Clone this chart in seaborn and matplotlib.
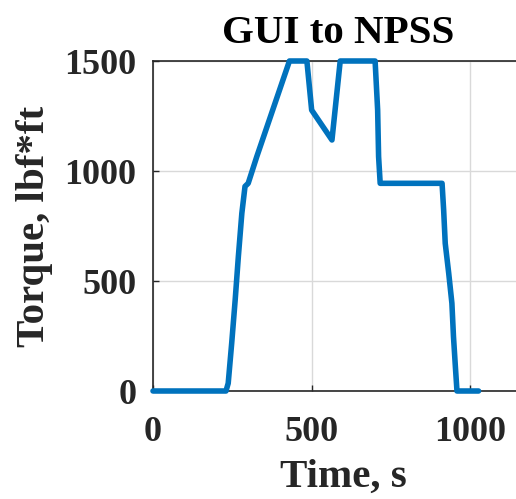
import matplotlib
matplotlib.use("Agg")
import matplotlib.pyplot as plt
import seaborn as sns
import pandas as pd

time_s = [0, 230, 237, 248, 259, 269, 280, 290, 300, 327, 430, 485, 500, 564, 590,
          700, 708, 711, 716, 911, 916, 921, 932, 942, 947, 953, 958, 1026]
torque = [0, 0, 35, 217, 414, 611, 808, 930, 944, 1065, 1500, 1500, 1277, 1141, 1500,
          1500, 1277, 1065, 944, 944, 823, 671, 535, 399, 247, 110, 0, 0]

df = pd.DataFrame({"Time": time_s, "Torque": torque})

sns.set_theme(style="ticks")
plt.rcParams['font.family'] = ['Liberation Serif', 'DejaVu Serif']
plt.rcParams['font.weight'] = 'bold'

W, H = 516, 499
fig = plt.figure(figsize=(W/100, H/100), dpi=100)
x0 = 153
ppu = 0.3173
xmax = 1200
ax = fig.add_axes([x0/W, (H-391)/H, (xmax*ppu)/W, (391-61)/H])

sns.lineplot(data=df, x="Time", y="Torque", ax=ax, color="#0072BD",
             linewidth=4.0, sort=False, estimator=None)
for ln in ax.get_lines():
    ln.set_clip_on(False)
    ln.set_zorder(5)

ax.set_xlim(0, xmax)
ax.set_ylim(0, 1500)
ax.set_xticks([0, 500, 1000])
ax.set_yticks([0, 500, 1000, 1500])
ax.grid(True, color="#d9d9d9", linewidth=1.0)
ax.set_axisbelow(True)
for s in ax.spines.values():
    s.set_color("#262626")
    s.set_linewidth(1.2)
ax.tick_params(direction="in", length=4, width=1, colors="#262626", labelsize=26,
               labelcolor="#262626")
ax.tick_params(axis="y", pad=12)
ax.tick_params(axis="x", pad=18)
for lab in ax.get_xticklabels() + ax.get_yticklabels():
    lab.set_fontweight("bold")

ax.set_xlabel("Time, s", fontsize=29.5, fontweight="bold", color="#262626", labelpad=7)
ax.set_ylabel("Torque, lbf*ft", fontsize=29.5, fontweight="bold", color="#262626", labelpad=8)
fig.text((222+455)/2/W, 1-43/H, "GUI to NPSS", fontsize=29.5, fontweight="bold",
         color="black", ha="center", va="baseline")

fig.savefig("out.png", dpi=100)
